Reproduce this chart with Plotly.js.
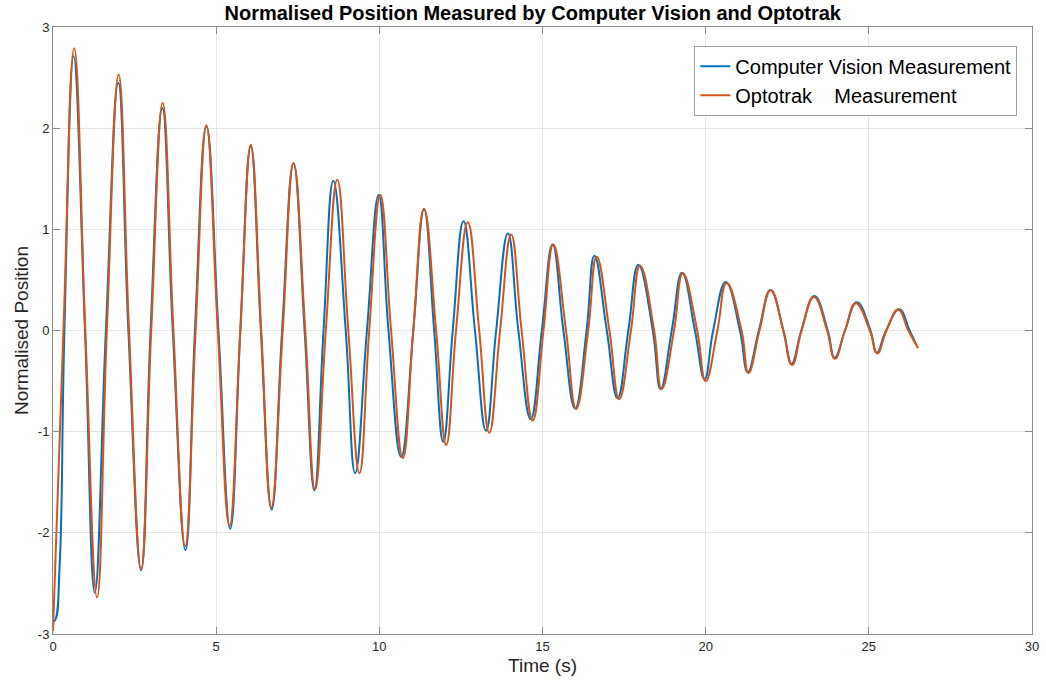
<!DOCTYPE html>
<html>
<head>
<meta charset="utf-8">
<script src="https://cdn.plot.ly/plotly-3.0.1.min.js"></script>
<style>html,body{margin:0;padding:0;background:#fff;}#chart{width:1046px;height:684px;}</style>
</head>
<body>
<div id="chart"></div>
<script>
// Computer Vision Measurement (blue): time (s) and normalised position
const cvTime = [0, 0.07, 0.2, 0.35, 0.63, 0.98, 1.28, 1.62, 2.0, 2.31, 2.70, 2.99, 3.35, 3.67, 4.06, 4.35, 4.70, 5.07, 5.43, 5.74, 6.06, 6.37, 6.70, 7.02, 7.37, 7.71, 8.01, 8.29, 8.59, 8.97, 9.26, 9.62, 9.98, 10.28, 10.67, 11.04, 11.37, 11.68, 11.96, 12.25, 12.58, 12.93, 13.27, 13.58, 13.94, 14.26, 14.64, 14.98, 15.31, 15.64, 16.0, 16.35, 16.59, 16.97, 17.30, 17.63, 17.94, 18.38, 18.62, 18.96, 19.28, 19.67, 19.97, 20.23, 20.62, 21.05, 21.29, 21.63, 21.99, 22.38, 22.63, 22.93, 23.33, 23.74, 23.95, 24.27, 24.63, 25.05, 25.24, 25.53, 25.93, 26.25, 26.46];
const cvPos = [-2.88, -2.86, -2.35, 0, 2.71, 0, -2.59, 0, 2.45, 0, -2.37, 0, 2.20, 0, -2.17, 0, 2.02, 0, -1.96, 0, 1.82, 0, -1.77, 0, 1.65, 0, -1.58, 0, 1.48, 0, -1.41, 0, 1.34, 0, -1.25, 0, 1.20, 0, -1.10, 0, 1.08, 0, -0.99, 0, 0.96, 0, -0.875, 0, 0.85, 0, -0.77, 0, 0.74, 0, -0.67, 0, 0.65, 0, -0.58, 0, 0.57, 0, -0.48, 0, 0.48, 0, -0.41, 0, 0.40, 0, -0.33, 0, 0.34, 0, -0.27, 0, 0.28, 0, -0.22, 0, 0.21, 0, -0.145];

// Optotrak Measurement (orange)
const optoTime = [0, 0.32, 0.65, 0.99, 1.35, 1.65, 2.01, 2.33, 2.70, 3.01, 3.36, 3.69, 4.05, 4.37, 4.70, 5.05, 5.41, 5.74, 6.06, 6.38, 6.69, 7.04, 7.37, 7.73, 8.03, 8.36, 8.71, 9.05, 9.39, 9.69, 10.03, 10.36, 10.72, 11.04, 11.37, 11.74, 12.05, 12.35, 12.71, 13.06, 13.37, 13.70, 14.04, 14.36, 14.70, 15.03, 15.33, 15.72, 16.03, 16.40, 16.66, 17.05, 17.35, 17.71, 17.99, 18.42, 18.65, 19.03, 19.30, 19.74, 20.0, 20.36, 20.64, 21.10, 21.31, 21.65, 21.99, 22.38, 22.65, 22.94, 23.32, 23.72, 23.96, 24.27, 24.60, 25.03, 25.26, 25.54, 25.90, 26.21, 26.51];
const optoPos = [-2.97, 0, 2.79, 0, -2.64, 0, 2.53, 0, -2.36, 0, 2.25, 0, -2.13, 0, 2.03, 0, -1.93, 0, 1.835, 0, -1.75, 0, 1.655, 0, -1.57, 0, 1.49, 0, -1.41, 0, 1.34, 0, -1.26, 0, 1.20, 0, -1.13, 0, 1.07, 0, -1.01, 0, 0.95, 0, -0.89, 0, 0.85, 0, -0.775, 0, 0.73, 0, -0.68, 0, 0.64, 0, -0.58, 0, 0.565, 0, -0.50, 0, 0.47, 0, -0.42, 0, 0.397, 0, -0.34, 0, 0.33, 0, -0.28, 0, 0.27, 0, -0.227, 0, 0.207, 0, -0.175];

const seriesNames = ["Computer Vision Measurement", "Optotrak\u00a0\u00a0\u00a0\u00a0Measurement"];
const xTicks = [0, 5, 10, 15, 20, 25, 30];
const yTicks = [-3, -2, -1, 0, 1, 2, 3];

const font = "Liberation Sans, Arial, sans-serif";
const axisCommon = {
  showgrid: true, gridcolor: "#e5e5e5", gridwidth: 1,
  zeroline: false, showline: true, linecolor: "#8c8c8c", linewidth: 1,
  mirror: "ticks", ticks: "inside", ticklen: 7, tickcolor: "#8c8c8c", tickwidth: 1,
  tickfont: {family: font, size: 13, color: "#262626"}
};

const data = [
  {x: cvTime, y: cvPos, type: "scatter", mode: "lines", name: seriesNames[0],
   line: {color: "#0072BD", width: 2, shape: "spline", smoothing: 1.3}},
  {x: optoTime, y: optoPos, type: "scatter", mode: "lines", name: seriesNames[1],
   line: {color: "#D95319", width: 2, shape: "spline", smoothing: 1.3}}
];

const layout = {
  width: 1046, height: 684,
  margin: {l: 53, r: 14, t: 27, b: 50},
  paper_bgcolor: "#ffffff", plot_bgcolor: "#ffffff",
  title: {text: "<b>Normalised Position Measured by Computer Vision and Optotrak</b>",
          font: {family: font, size: 20, color: "#000000"},
          x: 0.49, xref: "paper", y: 0.981, yanchor: "middle"},
  xaxis: Object.assign({}, axisCommon, {range: [0, 30], tickvals: xTicks, ticktext: xTicks.map(String),
    title: {text: "Time (s)", font: {family: font, size: 19, color: "#262626"}, standoff: 6}}),
  yaxis: Object.assign({}, axisCommon, {range: [-3, 3], tickvals: yTicks, ticktext: yTicks.map(String),
    title: {text: "Normalised Position", font: {family: font, size: 19, color: "#262626"}, standoff: 4}}),
  showlegend: true,
  legend: {x: 0.985, y: 0.969, xanchor: "right", yanchor: "top",
           bgcolor: "#ffffff", bordercolor: "#a0a0a0", borderwidth: 1,
           font: {family: font, size: 20, color: "#000000"}, tracegroupgap: 0}
};

Plotly.newPlot("chart", data, layout, {displayModeBar: false, staticPlot: true});
</script>
</body>
</html>
